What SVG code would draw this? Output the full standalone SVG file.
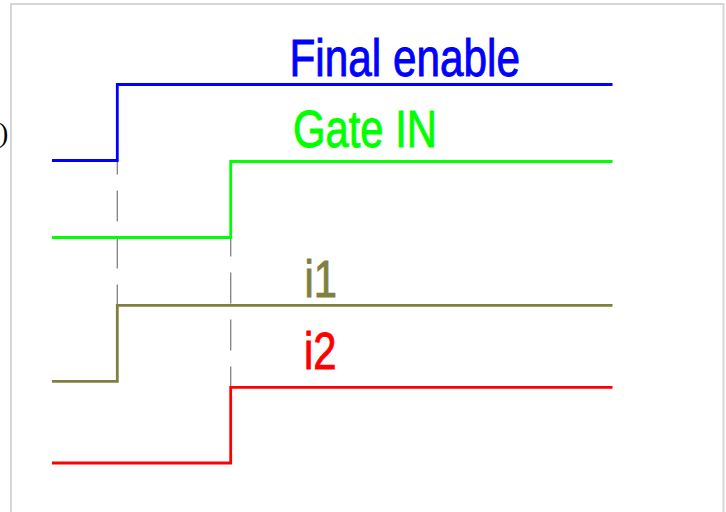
<svg xmlns="http://www.w3.org/2000/svg" width="726" height="512" viewBox="0 0 726 512">
<style>
.sig{fill:none;stroke-width:2.8;stroke-linejoin:miter;stroke-linecap:butt}
.lbl{font-family:"Liberation Sans",Arial,sans-serif;font-size:51px;stroke-width:0.9}
.dash{fill:none;stroke:#808080;stroke-width:1.3;stroke-dasharray:31 16}
</style>
<rect x="0" y="0" width="726" height="512" fill="#ffffff"/>
<rect x="11" y="4" width="712.5" height="530" fill="none" stroke="#d6d6d6" stroke-width="2"/>
<text x="-1" y="142" font-family="'Liberation Serif',serif" font-size="28" fill="#000">)</text>
<g id="connectors">
<line class="dash" x1="117.3" y1="160.5" x2="117.3" y2="305" stroke-dashoffset="17"/>
<line class="dash" x1="230.7" y1="237.5" x2="230.7" y2="387" stroke-dashoffset="12"/>
</g>
<g id="final-enable">
<polyline class="sig" stroke="#0000ff" points="52,160.5 117.3,160.5 117.3,84.5 612.5,84.5"/>
<text class="lbl" fill="#0000ff" stroke="#0000ff" x="289.5" y="76" textLength="230.5" lengthAdjust="spacingAndGlyphs">Final enable</text>
</g>
<g id="gate-in">
<polyline class="sig" stroke="#00ff00" points="52,237.5 230.7,237.5 230.7,161.5 612.5,161.5"/>
<text class="lbl" fill="#00ff00" stroke="#00ff00" x="293" y="146.5" textLength="144" lengthAdjust="spacingAndGlyphs">Gate IN</text>
</g>
<g id="i1">
<polyline class="sig" stroke="#7f7f3f" points="52,381.3 117.3,381.3 117.3,305.3 612.5,305.3"/>
<text class="lbl" fill="#7f7f3f" stroke="#7f7f3f" x="304.5" y="296.7" textLength="32.5" lengthAdjust="spacingAndGlyphs">i1</text>
</g>
<g id="i2">
<polyline class="sig" stroke="#ff0000" points="52,463 230.7,463 230.7,387.3 612.5,387.3"/>
<text class="lbl" fill="#ff0000" stroke="#ff0000" x="304" y="369" textLength="32.5" lengthAdjust="spacingAndGlyphs">i2</text>
</g>
</svg>
